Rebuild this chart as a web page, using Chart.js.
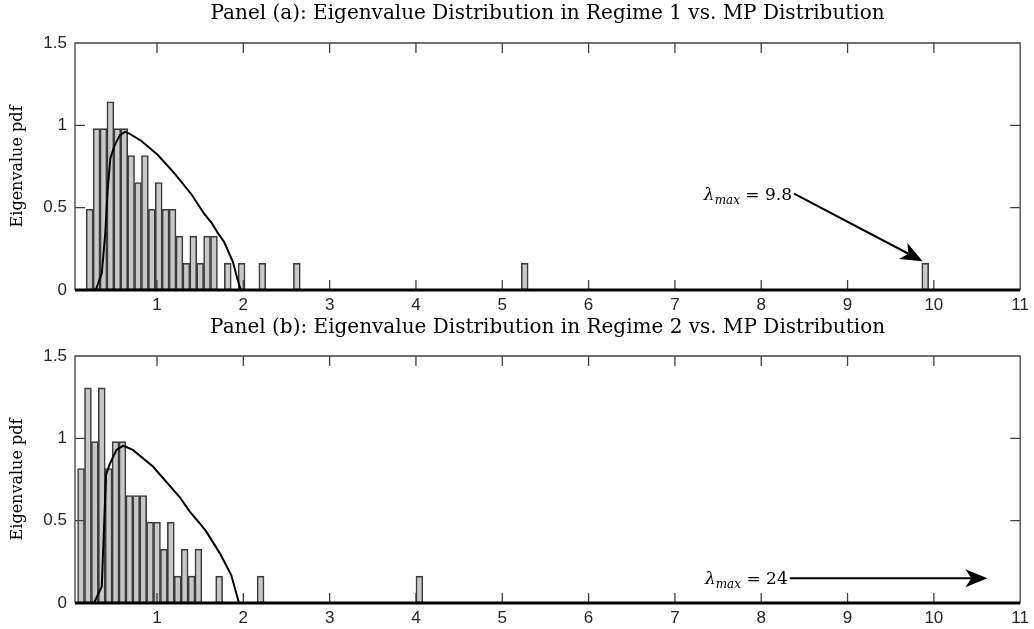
<!DOCTYPE html>
<html>
<head>
<meta charset="utf-8">
<script src="https://cdn.jsdelivr.net/npm/chart.js@4.4.1/dist/chart.umd.min.js"></script>
<style>
  html, body { margin: 0; padding: 0; background: #fff; }
  .panel { position: absolute; left: 0; width: 1034px; }
  #wrapA { top: 0; height: 314px; }
  #wrapB { top: 314px; height: 315px; }
</style>
</head>
<body>
<div class="panel" id="wrapA"><canvas id="chartA"></canvas></div>
<div class="panel" id="wrapB"><canvas id="chartB"></canvas></div>
<script>
// histogram bin centres and normalised heights (regime 1)
const binsA = [0.22, 0.30, 0.38, 0.46, 0.54, 0.62, 0.70, 0.78, 0.86, 0.94, 1.02, 1.10, 1.18,
  1.26, 1.34, 1.42, 1.50, 1.58, 1.66, 1.82, 1.98, 2.22, 2.62, 5.26, 9.90];
const pdfA = [0.49, 0.98, 0.98, 1.143, 0.98, 0.98, 0.817, 0.653, 0.817, 0.49, 0.653, 0.49, 0.49,
  0.327, 0.163, 0.327, 0.163, 0.327, 0.327, 0.163, 0.163, 0.163, 0.163, 0.163, 0.163];

// Marchenko-Pastur density, regime 1
const mpXA = [0.29, 0.36, 0.40, 0.43, 0.46, 0.51, 0.57, 0.63, 0.68, 0.82, 1.01, 1.20, 1.40,
  1.55, 1.63, 1.70, 1.78, 1.88, 1.93, 1.97];
const mpYA = [0, 0.10, 0.34, 0.62, 0.80, 0.88, 0.94, 0.96, 0.95, 0.905, 0.82, 0.71, 0.58,
  0.46, 0.41, 0.35, 0.29, 0.17, 0.07, 0];

// regime 2
const binsB = [0.12, 0.20, 0.28, 0.36, 0.44, 0.52, 0.60, 0.68, 0.76, 0.84, 0.92, 1.00, 1.08,
  1.16, 1.24, 1.32, 1.40, 1.48, 1.72, 2.20, 4.04];
const pdfB = [0.817, 1.306, 0.98, 1.306, 0.817, 0.98, 0.98, 0.653, 0.653, 0.653, 0.49, 0.49, 0.327,
  0.49, 0.163, 0.327, 0.163, 0.327, 0.163, 0.163, 0.163];

const mpXB = [0.27, 0.36, 0.41, 0.45, 0.53, 0.61, 0.72, 0.95, 1.26, 1.38, 1.50, 1.57, 1.73, 1.86, 1.95];
const mpYB = [0, 0.10, 0.78, 0.84, 0.93, 0.955, 0.93, 0.83, 0.645, 0.555, 0.48, 0.435, 0.30, 0.17, 0];

const xTicks = [1, 2, 3, 4, 5, 6, 7, 8, 9, 10, 11];
const yTicks = [0, 0.5, 1, 1.5];

// largest eigenvalue callouts: label value, arrow tail and head in data units
const noteA = { value: '9.8', from: [8.38, 0.585], to: [9.87, 0.175] };
const noteB = { value: '24', from: [8.33, 0.15], to: [10.62, 0.15] };

const serif = '"DejaVu Serif", serif';
const sans = '"Liberation Sans", Arial, sans-serif';

// box with inward ticks and a heavy baseline
const frame = {
  id: 'frame',
  afterDatasetsDraw(chart) {
    const { ctx, chartArea: a, scales: { x, y } } = chart;
    ctx.save();
    ctx.strokeStyle = '#404040';
    ctx.lineWidth = 1.3;
    ctx.beginPath();
    ctx.moveTo(a.left, a.bottom);
    ctx.lineTo(a.left, a.top);
    ctx.lineTo(a.right, a.top);
    ctx.lineTo(a.right, a.bottom);
    xTicks.forEach(v => {
      const px = x.getPixelForValue(v);
      ctx.moveTo(px, a.top); ctx.lineTo(px, a.top + 10);
      ctx.moveTo(px, a.bottom); ctx.lineTo(px, a.bottom - 10);
    });
    yTicks.forEach(v => {
      const py = y.getPixelForValue(v);
      ctx.moveTo(a.left, py); ctx.lineTo(a.left + 10, py);
      ctx.moveTo(a.right, py); ctx.lineTo(a.right - 10, py);
    });
    ctx.stroke();
    ctx.strokeStyle = '#000';
    ctx.lineWidth = 3;
    ctx.beginPath();
    ctx.moveTo(a.left, a.bottom);
    ctx.lineTo(a.right, a.bottom);
    ctx.stroke();
    ctx.restore();
  }
};

function callout(note) {
  return {
    id: 'callout',
    afterDraw(chart) {
      const { ctx, scales: { x, y } } = chart;
      const x0 = x.getPixelForValue(note.from[0]), y0 = y.getPixelForValue(note.from[1]);
      const x1 = x.getPixelForValue(note.to[0]), y1 = y.getPixelForValue(note.to[1]);
      ctx.save();
      // label, right-aligned against the arrow tail
      const big = 'italic 17px ' + serif, small = 'italic 12px ' + serif, plain = '17px ' + serif;
      const rest = ' = ' + note.value;
      ctx.font = big; const wL = ctx.measureText('λ').width;
      ctx.font = small; const wM = ctx.measureText('max').width;
      ctx.font = plain; const wR = ctx.measureText(rest).width;
      let tx = x0 - 2 - (wL + wM + wR);
      const base = y0 + 6;
      ctx.fillStyle = '#000';
      ctx.textBaseline = 'alphabetic';
      ctx.font = big; ctx.fillText('λ', tx, base); tx += wL;
      ctx.font = small; ctx.fillText('max', tx, base + 4); tx += wM;
      ctx.font = plain; ctx.fillText(rest, tx, base);
      // arrow with a swept-back head
      const ang = Math.atan2(y1 - y0, x1 - x0);
      const hl = 22, hw = 9, notch = 6;
      const cos = Math.cos(ang), sin = Math.sin(ang);
      const bx = x1 - hl * cos, by = y1 - hl * sin;
      const nx = x1 - (hl - notch) * cos, ny = y1 - (hl - notch) * sin;
      ctx.strokeStyle = '#000';
      ctx.lineWidth = 2;
      ctx.beginPath();
      ctx.moveTo(x0, y0);
      ctx.lineTo(nx, ny);
      ctx.stroke();
      ctx.beginPath();
      ctx.moveTo(x1, y1);
      ctx.lineTo(bx + hw * sin, by - hw * cos);
      ctx.lineTo(nx, ny);
      ctx.lineTo(bx - hw * sin, by + hw * cos);
      ctx.closePath();
      ctx.fill();
      ctx.restore();
    }
  };
}

function makeChart(id, title, bins, pdf, mpX, mpY, note, bottomH, topPad) {
  return new Chart(document.getElementById(id), {
    type: 'bar',
    data: {
      datasets: [
        {
          type: 'line',
          data: mpX.map((v, i) => ({ x: v, y: mpY[i] })),
          borderColor: '#000',
          borderWidth: 2,
          pointRadius: 0,
          tension: 0,
          fill: false,
          order: 0,
        },
        {
          type: 'bar',
          data: bins.map((v, i) => ({ x: v, y: pdf[i] })),
          backgroundColor: '#c8c8c8',
          borderColor: '#3c3c3c',
          borderWidth: 1.6,
          borderSkipped: false,
          barPercentage: 1,
          categoryPercentage: 1,
          order: 1,
        },
      ],
    },
    options: {
      responsive: true,
      maintainAspectRatio: false,
      animation: false,
      layout: { padding: { left: 0, right: 10, top: 0, bottom: 0 } },
      plugins: {
        legend: { display: false },
        tooltip: { enabled: false },
        title: {
          display: true,
          text: title,
          fullSize: false,
          color: '#000',
          font: { family: serif, size: 20, weight: 'normal' },
          padding: { top: 2, bottom: topPad },
        },
      },
      scales: {
        x: {
          type: 'linear',
          min: 0.05,
          max: 11,
          offset: false,
          grid: { display: false, drawTicks: false },
          border: { display: false },
          afterBuildTicks: s => { s.ticks = xTicks.map(v => ({ value: v })); },
          afterFit: s => { s.height = bottomH; },
          ticks: {
            color: '#262626',
            font: { family: sans, size: 17 },
            padding: 5,
            maxRotation: 0,
            callback: v => String(v),
          },
        },
        y: {
          min: 0,
          max: 1.5,
          grid: { display: false, drawTicks: false },
          border: { display: false },
          afterBuildTicks: s => { s.ticks = yTicks.map(v => ({ value: v })); },
          afterFit: s => { s.width = 75; },
          title: {
            display: true,
            text: 'Eigenvalue pdf',
            color: '#000',
            font: { family: serif, size: 16, weight: 'normal' },
            padding: { top: 8.5, bottom: 0 },
          },
          ticks: {
            color: '#262626',
            font: { family: sans, size: 17 },
            padding: 8,
            callback: v => String(v),
          },
        },
      },
    },
    plugins: [frame, callout(note)],
  });
}

makeChart('chartA', 'Panel (a): Eigenvalue Distribution in Regime 1 vs. MP Distribution',
  binsA, pdfA, mpXA, mpYA, noteA, 24, 17);
makeChart('chartB', 'Panel (b): Eigenvalue Distribution in Regime 2 vs. MP Distribution',
  binsB, pdfB, mpXB, mpYB, noteB, 26, 16);
</script>
</body>
</html>
